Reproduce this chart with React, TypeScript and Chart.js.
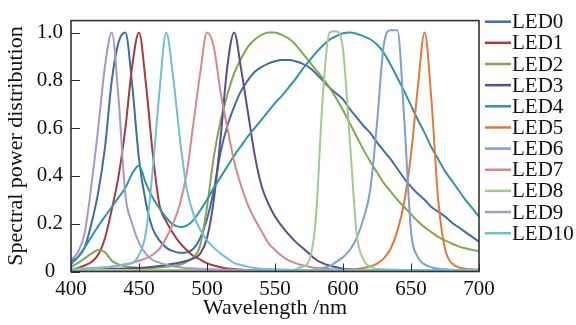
import React, { useEffect, useRef } from "react";
import { Chart, registerables } from "chart.js";

Chart.register(...registerables);

const wavelengths = [
  400, 405, 410, 415, 420, 425, 430, 435, 440, 445,
  450, 455, 460, 465, 470, 475, 480, 485, 490, 495,
  500, 505, 510, 515, 520, 525, 530, 535, 540, 545,
  550, 555, 560, 565, 570, 575, 580, 585, 590, 595,
  600, 605, 610, 615, 620, 625, 630, 635, 640, 645,
  650, 655, 660, 665, 670, 675, 680, 685, 690, 695,
  700,
];

const led0 = [
  0.045, 0.06, 0.10, 0.20, 0.33, 0.52, 0.80, 0.96, 1.0, 0.78,
  0.47, 0.29, 0.18, 0.13, 0.10, 0.085, 0.078, 0.08, 0.095, 0.14,
  0.22, 0.34, 0.50, 0.61, 0.69, 0.755, 0.80, 0.835, 0.855, 0.87,
  0.88, 0.885, 0.885, 0.88, 0.87, 0.855, 0.83, 0.80, 0.77, 0.745,
  0.72, 0.68, 0.645, 0.61, 0.58, 0.54, 0.505, 0.47, 0.43, 0.39,
  0.355, 0.325, 0.30, 0.27, 0.25, 0.23, 0.205, 0.185, 0.165, 0.145,
  0.125,
];
const led1 = [
  0.01, 0.015, 0.025, 0.04, 0.07, 0.14, 0.26, 0.40, 0.60, 0.86,
  1.0, 0.79, 0.50, 0.28, 0.21, 0.16, 0.12, 0.09, 0.065, 0.05,
  0.035, 0.025, 0.018, 0.013, 0.01, 0.008, 0.006, 0.005, 0.005, 0.005,
  0.005, 0.005, 0.005, 0.005, 0.005, 0.005, 0.005, 0.005, 0.005, 0.005,
  0.005, 0.005, 0.005, 0.005, 0.005, 0.005, 0.005, 0.005, 0.005, 0.005,
  0.005, 0.005, 0.005, 0.005, 0.005, 0.005, 0.005, 0.005, 0.005, 0.005,
  0.005,
];
const led2 = [
  0.02, 0.035, 0.055, 0.075, 0.09, 0.08, 0.045, 0.03, 0.022, 0.018,
  0.016, 0.015, 0.015, 0.017, 0.02, 0.023, 0.028, 0.04, 0.06, 0.11,
  0.27, 0.48, 0.63, 0.74, 0.83, 0.89, 0.94, 0.97, 0.99, 1.0,
  1.0, 0.99, 0.975, 0.95, 0.915, 0.88, 0.845, 0.81, 0.77, 0.725,
  0.675, 0.62, 0.565, 0.51, 0.46, 0.415, 0.37, 0.335, 0.30, 0.27,
  0.24, 0.21, 0.185, 0.165, 0.145, 0.13, 0.117, 0.105, 0.097, 0.09,
  0.085,
];
const led3 = [
  0.005, 0.006, 0.007, 0.008, 0.009, 0.01, 0.011, 0.012, 0.013, 0.014,
  0.015, 0.017, 0.02, 0.023, 0.027, 0.032, 0.038, 0.045, 0.055, 0.075,
  0.14, 0.30, 0.56, 0.86, 1.0, 0.85, 0.67, 0.49, 0.36, 0.285,
  0.23, 0.19, 0.155, 0.125, 0.10, 0.075, 0.05, 0.035, 0.025, 0.018,
  0.012, 0.009, 0.007, 0.006, 0.005, 0.005, 0.005, 0.005, 0.005, 0.005,
  0.005, 0.005, 0.005, 0.005, 0.005, 0.005, 0.005, 0.005, 0.005, 0.005,
  0.005,
];
const led4 = [
  0.03, 0.06, 0.10, 0.145, 0.19, 0.23, 0.27, 0.31, 0.35, 0.41,
  0.444, 0.37, 0.31, 0.265, 0.225, 0.197, 0.186, 0.192, 0.215, 0.255,
  0.30, 0.35, 0.395, 0.44, 0.485, 0.525, 0.565, 0.60, 0.635, 0.67,
  0.705, 0.735, 0.77, 0.805, 0.845, 0.88, 0.915, 0.945, 0.97, 0.985,
  0.997, 1.0, 0.995, 0.985, 0.972, 0.95, 0.915, 0.865, 0.81, 0.755,
  0.695, 0.635, 0.58, 0.52, 0.47, 0.42, 0.38, 0.34, 0.30, 0.265,
  0.23,
];
const led5 = [
  0.005, 0.005, 0.005, 0.005, 0.005, 0.005, 0.005, 0.005, 0.005, 0.005,
  0.005, 0.005, 0.005, 0.005, 0.005, 0.005, 0.005, 0.005, 0.005, 0.005,
  0.005, 0.005, 0.005, 0.005, 0.005, 0.005, 0.005, 0.005, 0.005, 0.005,
  0.005, 0.005, 0.005, 0.005, 0.005, 0.005, 0.005, 0.005, 0.005, 0.005,
  0.006, 0.008, 0.011, 0.015, 0.021, 0.033, 0.055, 0.095, 0.17, 0.29,
  0.49, 0.77, 1.0, 0.72, 0.30, 0.095, 0.035, 0.018, 0.012, 0.009,
  0.008,
];
const led6 = [
  0.005, 0.005, 0.005, 0.005, 0.005, 0.005, 0.005, 0.005, 0.005, 0.005,
  0.005, 0.005, 0.005, 0.005, 0.005, 0.005, 0.005, 0.005, 0.005, 0.005,
  0.005, 0.005, 0.005, 0.005, 0.005, 0.005, 0.005, 0.005, 0.005, 0.005,
  0.005, 0.005, 0.005, 0.005, 0.005, 0.005, 0.01, 0.015, 0.022, 0.04,
  0.06, 0.09, 0.14, 0.22, 0.34, 0.62, 0.95, 1.01, 1.01, 0.64,
  0.17, 0.06, 0.03, 0.018, 0.012, 0.009, 0.007, 0.006, 0.005, 0.005,
  0.005,
];
const led7 = [
  0.01, 0.011, 0.012, 0.014, 0.016, 0.018, 0.021, 0.025, 0.03, 0.037,
  0.045, 0.055, 0.07, 0.095, 0.14, 0.20, 0.28, 0.41, 0.62, 0.83,
  1.0, 0.94, 0.75, 0.60, 0.46, 0.36, 0.28, 0.22, 0.17, 0.12,
  0.09, 0.065, 0.047, 0.035, 0.026, 0.02, 0.015, 0.012, 0.01, 0.008,
  0.007, 0.006, 0.005, 0.005, 0.005, 0.005, 0.005, 0.005, 0.005, 0.005,
  0.005, 0.005, 0.005, 0.005, 0.005, 0.005, 0.005, 0.005, 0.005, 0.005,
  0.005,
];
const led8 = [
  0.006, 0.006, 0.006, 0.006, 0.006, 0.006, 0.006, 0.006, 0.006, 0.006,
  0.006, 0.006, 0.006, 0.006, 0.006, 0.006, 0.006, 0.006, 0.006, 0.006,
  0.006, 0.006, 0.006, 0.006, 0.006, 0.006, 0.006, 0.006, 0.006, 0.006,
  0.006, 0.006, 0.006, 0.01, 0.02, 0.045, 0.22, 0.72, 1.0, 1.005,
  0.93, 0.55, 0.16, 0.05, 0.02, 0.012, 0.009, 0.008, 0.007, 0.006,
  0.006, 0.006, 0.006, 0.006, 0.006, 0.006, 0.006, 0.006, 0.006, 0.006,
  0.006,
];
const led9 = [
  0.05, 0.08, 0.16, 0.36, 0.60, 0.86, 1.0, 0.72, 0.32, 0.20,
  0.12, 0.075, 0.048, 0.037, 0.028, 0.022, 0.018, 0.015, 0.013, 0.011,
  0.01, 0.009, 0.008, 0.007, 0.007, 0.006, 0.006, 0.006, 0.005, 0.005,
  0.005, 0.005, 0.005, 0.005, 0.005, 0.005, 0.005, 0.005, 0.005, 0.005,
  0.005, 0.005, 0.005, 0.005, 0.005, 0.005, 0.005, 0.005, 0.005, 0.005,
  0.005, 0.005, 0.005, 0.005, 0.005, 0.005, 0.005, 0.005, 0.005, 0.005,
  0.005,
];
const led10 = [
  0.01, 0.011, 0.012, 0.013, 0.015, 0.017, 0.02, 0.024, 0.03, 0.035,
  0.07, 0.16, 0.42, 0.75, 1.0, 0.82, 0.56, 0.35, 0.24, 0.175,
  0.13, 0.10, 0.075, 0.055, 0.035, 0.027, 0.02, 0.015, 0.012, 0.01,
  0.009, 0.008, 0.007, 0.006, 0.006, 0.006, 0.006, 0.006, 0.006, 0.006,
  0.006, 0.006, 0.006, 0.006, 0.006, 0.006, 0.006, 0.006, 0.006, 0.006,
  0.006, 0.006, 0.006, 0.006, 0.006, 0.006, 0.006, 0.006, 0.006, 0.006,
  0.006,
];

const seriesNames = ["LED0", "LED1", "LED2", "LED3", "LED4", "LED5", "LED6", "LED7", "LED8", "LED9", "LED10"];
const seriesColors = [
  "#3b6ea8", "#a83a3e", "#80a94b", "#5d4a8f", "#2f95a7", "#e07a35",
  "#7f9fd0", "#d8878c", "#a4c98b", "#a798c7", "#6ec0d3",
];
const xTickValues = [400, 450, 500, 550, 600, 650, 700];
const yTickValues = [0, 0.2, 0.4, 0.6, 0.8, 1.0];

const FONT = "'Liberation Serif', 'Times New Roman', serif";

export default function App() {
  const ref = useRef<HTMLCanvasElement>(null);

  useEffect(() => {
    const seriesValues = [led0, led1, led2, led3, led4, led5, led6, led7, led8, led9, led10];

    const framePlugin = {
      id: "frame",
      afterDatasetsDraw(chart: any) {
        const { ctx, chartArea } = chart;
        const xs = chart.scales.x;
        const ys = chart.scales.y;
        ctx.save();
        ctx.strokeStyle = "#2a2a2a";
        ctx.lineWidth = 1;
        ctx.beginPath();
        for (const v of xTickValues) {
          const px = Math.round(xs.getPixelForValue(v)) + 0.5;
          ctx.moveTo(px, chartArea.bottom);
          ctx.lineTo(px, chartArea.bottom - 8);
        }
        for (const v of yTickValues) {
          const py = Math.round(ys.getPixelForValue(v)) + 0.5;
          ctx.moveTo(chartArea.left, py);
          ctx.lineTo(chartArea.left + 9, py);
        }
        ctx.stroke();
        ctx.lineWidth = 1.6;
        ctx.strokeStyle = "#333";
        ctx.strokeRect(chartArea.left, chartArea.top, chartArea.right - chartArea.left, chartArea.bottom - chartArea.top);
        ctx.restore();
      },
    };

    const legendPlugin = {
      id: "customLegend",
      afterDraw(chart: any) {
        const { ctx } = chart;
        ctx.save();
        ctx.font = `21px ${FONT}`;
        ctx.textBaseline = "middle";
        ctx.textAlign = "left";
        chart.data.datasets.forEach((ds: any, i: number) => {
          const y = 21.7 + i * 21.15;
          ctx.strokeStyle = ds.borderColor;
          ctx.lineWidth = 2.5;
          ctx.beginPath();
          ctx.moveTo(485, y);
          ctx.lineTo(511, y);
          ctx.stroke();
          ctx.fillStyle = "#111";
          ctx.fillText(ds.label, 512, y + 1);
        });
        ctx.restore();
      },
    };

    const chart = new Chart(ref.current as HTMLCanvasElement, {
      type: "line",
      data: {
        datasets: seriesValues.map((vals, i) => ({
          label: seriesNames[i],
          data: vals.map((v, j) => ({ x: wavelengths[j], y: v })),
          borderColor: seriesColors[i],
          backgroundColor: seriesColors[i],
          borderWidth: 2,
          pointRadius: 0,
          cubicInterpolationMode: "monotone",
          fill: false,
          order: seriesNames.length - i,
        })),
      },
      options: {
        responsive: false,
        animation: false,
        layout: { padding: { top: 4, right: 97, left: 0, bottom: 0 } },
        plugins: {
          legend: { display: false },
          tooltip: { enabled: false },
        },
        scales: {
          x: {
            type: "linear",
            min: 400,
            max: 700,
            afterFit: (s: any) => {
              s.height = 53.5;
            },
            afterBuildTicks: (s: any) => {
              s.ticks = xTickValues.map((v) => ({ value: v }));
            },
            grid: { display: false, drawTicks: false },
            border: { display: false },
            ticks: {
              padding: 5,
              autoSkip: false,
              maxRotation: 0,
              color: "#111",
              font: { family: FONT, size: 21 },
            },
            title: {
              display: true,
              text: "Wavelength /nm",
              color: "#111",
              font: { family: FONT, size: 22 },
              padding: { top: 0, bottom: 4 },
            },
          },
          y: {
            type: "linear",
            min: 0,
            max: 1.05,
            afterFit: (s: any) => {
              s.width = 71;
            },
            afterBuildTicks: (s: any) => {
              s.ticks = yTickValues.map((v) => ({ value: v }));
            },
            grid: { display: false, drawTicks: false },
            border: { display: false },
            ticks: {
              padding: 8,
              crossAlign: "center",
              color: "#111",
              font: { family: FONT, size: 21 },
              callback: (v: any) => (Number(v) === 0 ? "0" : Number(v).toFixed(1)),
            },
            title: {
              display: true,
              text: "Spectral power distribution",
              color: "#111",
              font: { family: FONT, size: 22 },
              padding: { top: 3.5, bottom: 0 },
            },
          },
        },
      },
      plugins: [framePlugin, legendPlugin],
    } as any);

    return () => chart.destroy();
  }, []);

  return (
    <div style={{ position: "absolute", left: 0, top: 0, width: 576, height: 325, background: "#fff" }}>
      <canvas ref={ref} width={576} height={325} style={{ display: "block", width: 576, height: 325 }} />
    </div>
  );
}
